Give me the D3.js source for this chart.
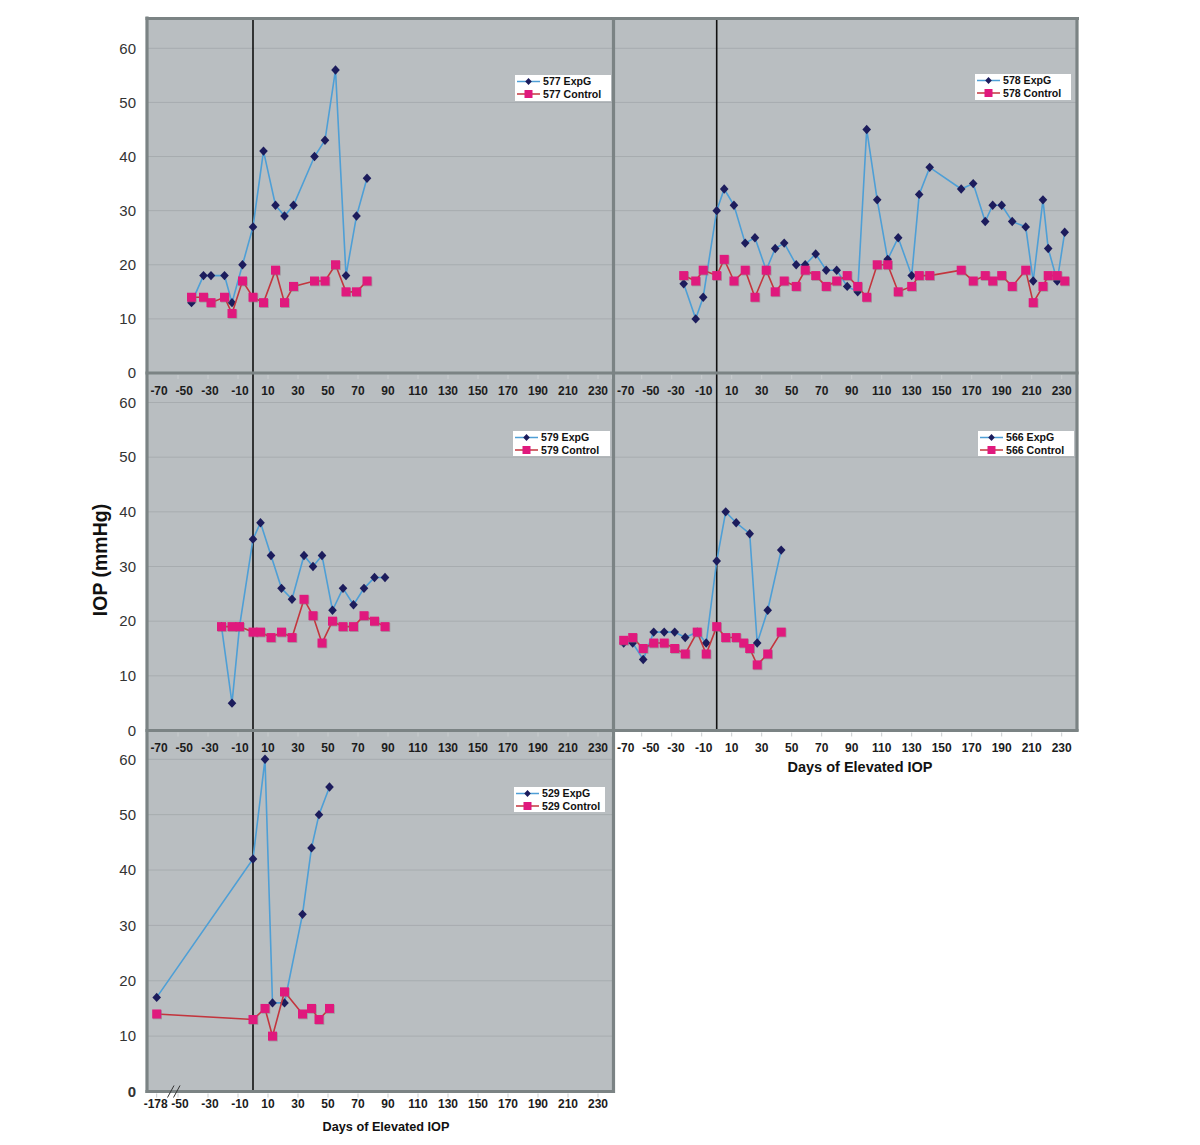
<!DOCTYPE html>
<html><head><meta charset="utf-8">
<script src="https://cdn.jsdelivr.net/npm/d3@7"></script>
<style>body{margin:0;background:#fff} text{font-family:"Liberation Sans",Arial,sans-serif}</style>
</head><body>
<svg id="c" width="1200" height="1145"></svg>
<script>
// ---------- data ----------
const xTickLabels = [-70,-50,-30,-10,10,30,50,70,90,110,130,150,170,190,210,230];
const xTickLabels529 = [-178,-50,-30,-10,10,30,50,70,90,110,130,150,170,190,210,230];
const yTickLabels = [0,10,20,30,40,50,60];

const days577 = [-41,-33,-28,-19,-14,-7,0,7,15,21,27,41,48,55,62,69,76];
const expg577 = [13,18,18,18,13,20,27,41,31,29,31,40,43,56,18,29,36];
const ctrl577 = [14,14,13,14,11,17,14,13,19,13,16,17,17,20,15,15,17];

const days578 = [-22,-14,-9,0,5,11.5,19,25.5,33,39,45,53,59,66,73,80,87,94,100,107,114,121,130,135,142,163,171,179,184,190,197,206,211,217.5,221,227,232];
const expg578 = [16.5,10,14,30,34,31,24,25,19,23,24,20,20,22,19,19,16,15,45,32,21,25,18,33,38,34,35,28,31,31,28,27,17,32,23,17,26];
const ctrl578 = [18,17,19,18,21,17,19,14,19,15,17,16,19,18,16,17,18,16,14,20,20,15,16,18,18,19,17,18,17,18,16,19,13,16,18,18,17];

const days579 = [-21,-14,-9,0,5,12,19,26,34,40,46,53,60,67,74,81,88];
const expg579 = [19,5,19,35,38,32,26,24,32,30,32,22,26,23,26,28,28];
const ctrl579 = [19,19,19,18,18,17,18,17,24,21,16,20,19,19,21,20,19];

const expDays566 = [-62,-56,-49,-42,-35,-28,-21,-13,-7,0,6,13,22,27,34,43];
const expg566 = [16,16,13,18,18,18,17,18,16,31,40,38,36,16,22,33];
const ctrlDays566 = [-62,-56,-49,-42,-35,-28,-21,-13,-7,0,6,13,18,22,27,34,43];
const ctrl566 = [16.5,17,15,16,16,15,14,18,14,19,17,17,16,15,12,14,18];

const days529 = [-178,0,8,13,21,33,39,44,51];
const expg529 = [17,42,60,16,16,32,44,50,55];
const ctrl529 = [14,13,15,10,18,14,15,13,15];

// ---------- styling ----------
const C = {bg:'#b9bec1', grid:'#a7acaf', frame:'#7b8384', exp:'#4e9fd6', expM:'#1c1c5c',
           ctl:'#c3353d', ctlM:'#e0197d', vline:'#111', tick:'#1c1c1c'};
const svg = d3.select('#c');

const xL = d3.scaleLinear().domain([-70,240]).range([148,613]);
const xR = d3.scaleLinear().domain([-68,240]).range([614.7,1076.7]);
const x529 = d3.scaleLinear().domain([-178,-55,240]).range([156.7, xL(-55), xL(240)]);

// column backgrounds
svg.append('rect').attr('x',146).attr('y',18).attr('width',467).attr('height',1073).attr('fill',C.bg);
svg.append('rect').attr('x',613).attr('y',18).attr('width',465).attr('height',712).attr('fill',C.bg);

const panels = [
  {name:'577', x:xL, left:148, y:d3.scaleLinear().domain([0,60]).range([373,48.3]), top:18,
   exp:[days577,expg577], ctl:[days577,ctrl577], ticks:xTickLabels, legend:[515,75,96,26], labDy:17.5, clamp:true, yLab:true},
  {name:'579', x:xL, left:148, y:d3.scaleLinear().domain([0,60]).range([730.5,402.5]), top:373,
   exp:[days579,expg579], ctl:[days579,ctrl579], ticks:xTickLabels, legend:[513,431,97,25], labDy:17.5, clamp:true, yLab:true},
  {name:'529', x:x529, left:148, y:d3.scaleLinear().domain([0,60]).range([1091.5,759.3]), top:730,
   exp:[days529,expg529], ctl:[days529,ctrl529], ticks:xTickLabels529, legend:[514,787,91,25], labDy:12, clamp:false, yLab:true, boldZero:true},
  {name:'578', x:xR, left:614.7, y:d3.scaleLinear().domain([0,60]).range([373,48.3]), top:18,
   exp:[days578,expg578], ctl:[days578,ctrl578], ticks:xTickLabels, legend:[975,74,96,26], labDy:17.5, clamp:true, yLab:false},
  {name:'566', x:xR, left:614.7, y:d3.scaleLinear().domain([0,60]).range([730.5,402.5]), top:373,
   exp:[expDays566,expg566], ctl:[ctrlDays566,ctrl566], ticks:xTickLabels, legend:[978,431,96,25], labDy:17.5, clamp:true, yLab:false},
];

const diamond = 'M0,-4.7L4.3,0L0,4.7L-4.3,0Z';

function drawMarkers(g, x, y, days, vals, kind){
  const pts = days.map((d,i)=>[d, vals[i]]);
  if(kind==='exp'){
    g.selectAll(null).data(pts).enter().append('path')
      .attr('d',diamond).attr('transform',d=>`translate(${x(d[0])},${y(d[1])})`)
      .attr('fill',C.expM);
  } else {
    g.selectAll(null).data(pts).enter().append('rect')
      .attr('x',d=>x(d[0])-4.5+0.8).attr('y',d=>y(d[1])-4.5+0.8).attr('width',9).attr('height',9)
      .attr('fill','#8a6f7c').attr('opacity',0.5);
    g.selectAll(null).data(pts).enter().append('rect')
      .attr('x',d=>x(d[0])-4.5).attr('y',d=>y(d[1])-4.5).attr('width',9).attr('height',9)
      .attr('fill',C.ctlM);
  }
}

panels.forEach(p=>{
  const g = svg.append('g');
  const left = p.left;
  const right = p.x.range()[p.x.range().length-1];
  const y0 = p.y(0);
  // gridlines
  g.selectAll(null).data(yTickLabels.filter(v=>v>0)).enter().append('line')
    .attr('x1',left).attr('x2',right).attr('y1',d=>p.y(d)).attr('y2',d=>p.y(d))
    .attr('stroke',C.grid).attr('stroke-width',1);
  // vertical line at day 0
  g.append('line').attr('x1',p.x(0)).attr('x2',p.x(0)).attr('y1',p.top).attr('y2',y0)
    .attr('stroke',C.vline).attr('stroke-width',1.6);
  // tick marks
  g.selectAll(null).data(p.ticks).enter().append('line')
    .attr('x1',d=>p.x(d)).attr('x2',d=>p.x(d)).attr('y1',y0+2).attr('y2',y0+6)
    .attr('stroke','#c9cdcf').attr('stroke-width',1);
  // tick label positions (keep inside plot, avoid crowding)
  let prevEnd = -Infinity;
  const labPos = p.ticks.map(d=>{
    const t = String(d); const hw = t.length*3.35;
    let xx = p.x(d) + (d<0 ? 2 : 0);
    if(p.clamp){
      if(xx-hw < left+1) xx = left+1+hw;
      if(xx+hw > right-1) xx = right-1-hw;
      if(xx-hw < prevEnd+5) xx = prevEnd+5+hw;
    } else if(d===-178){ xx = p.x(d) - 1; }
    prevEnd = xx+hw;
    return xx;
  });
  g.selectAll(null).data(p.ticks).enter().append('text')
    .attr('x',(d,i)=>labPos[i])
    .attr('y',y0+p.labDy+4.3).attr('text-anchor','middle')
    .attr('font-size',12).attr('font-weight','bold').attr('fill',C.tick).text(d=>d);
  // y labels
  if(p.yLab){
    g.selectAll(null).data(yTickLabels).enter().append('text')
      .attr('x',136).attr('y',d=>p.y(d)+5.3).attr('text-anchor','end')
      .attr('font-size',15).attr('fill','#333')
      .attr('font-weight',d=>(p.boldZero && d===0)?'bold':'normal').text(d=>d);
  }
  // series
  const line = d3.line().x(d=>p.x(d[0])).y(d=>p.y(d[1]));
  g.append('path').datum(p.exp[0].map((d,i)=>[d,p.exp[1][i]])).attr('d',line)
    .attr('fill','none').attr('stroke',C.exp).attr('stroke-width',1.6);
  drawMarkers(g, p.x, p.y, p.exp[0], p.exp[1], 'exp');
  g.append('path').datum(p.ctl[0].map((d,i)=>[d,p.ctl[1][i]])).attr('d',line)
    .attr('fill','none').attr('stroke',C.ctl).attr('stroke-width',1.6);
  drawMarkers(g, p.x, p.y, p.ctl[0], p.ctl[1], 'ctl');
  // legend
  const [lx,ly,lw,lh] = p.legend;
  const lg = g.append('g');
  lg.append('rect').attr('x',lx).attr('y',ly).attr('width',lw).attr('height',lh).attr('fill','#fff');
  const rows = [{t:p.name+' ExpG', c:C.exp, k:'exp'}, {t:p.name+' Control', c:C.ctl, k:'ctl'}];
  rows.forEach((r,i)=>{
    const yy = ly + 6.5 + i*12.5;
    lg.append('line').attr('x1',lx+2).attr('x2',lx+25).attr('y1',yy).attr('y2',yy)
      .attr('stroke',r.c).attr('stroke-width',1.5);
    if(r.k==='exp') lg.append('path').attr('d','M0,-3.6L3.3,0L0,3.6L-3.3,0Z').attr('transform',`translate(${lx+13.5},${yy})`).attr('fill',C.expM);
    else lg.append('rect').attr('x',lx+13.5-4).attr('y',yy-4).attr('width',8).attr('height',8).attr('fill',C.ctlM);
    lg.append('text').attr('x',lx+28).attr('y',yy+3.7).attr('font-size',10.6).attr('font-weight','bold')
      .attr('fill','#111').text(r.t);
  });
});

// frames
const fr = (x1,y1,x2,y2,w)=>svg.append('line').attr('x1',x1).attr('y1',y1).attr('x2',x2).attr('y2',y2)
  .attr('stroke',C.frame).attr('stroke-width',w||3.2);
fr(147,16.5,147,1093);
fr(145.5,18.5,1079,18.5);
fr(613.5,17,613.5,1093);
fr(1077,17,1077,731.5);
fr(145.5,373,1078.5,373);
fr(145.5,730.5,1078.5,730.5);
fr(145.5,1091.5,615,1091.5);

// axis break on 529 panel
svg.append('line').attr('x1',167.5).attr('y1',1097.5).attr('x2',174).attr('y2',1085.5).attr('stroke','#333').attr('stroke-width',1);
svg.append('line').attr('x1',173.5).attr('y1',1097.5).attr('x2',180).attr('y2',1085.5).attr('stroke','#333').attr('stroke-width',1);

// titles
svg.append('text').attr('transform','translate(107,560) rotate(-90)').attr('text-anchor','middle')
  .attr('font-size',19.5).attr('font-weight','bold').attr('fill','#111').text('IOP (mmHg)');
svg.append('text').attr('x',860).attr('y',772).attr('text-anchor','middle')
  .attr('font-size',14.5).attr('font-weight','bold').attr('fill','#111').text('Days of Elevated IOP');
svg.append('text').attr('x',386).attr('y',1130.5).attr('text-anchor','middle')
  .attr('font-size',12.7).attr('font-weight','bold').attr('fill','#111').text('Days of Elevated IOP');
</script>
</body></html>
